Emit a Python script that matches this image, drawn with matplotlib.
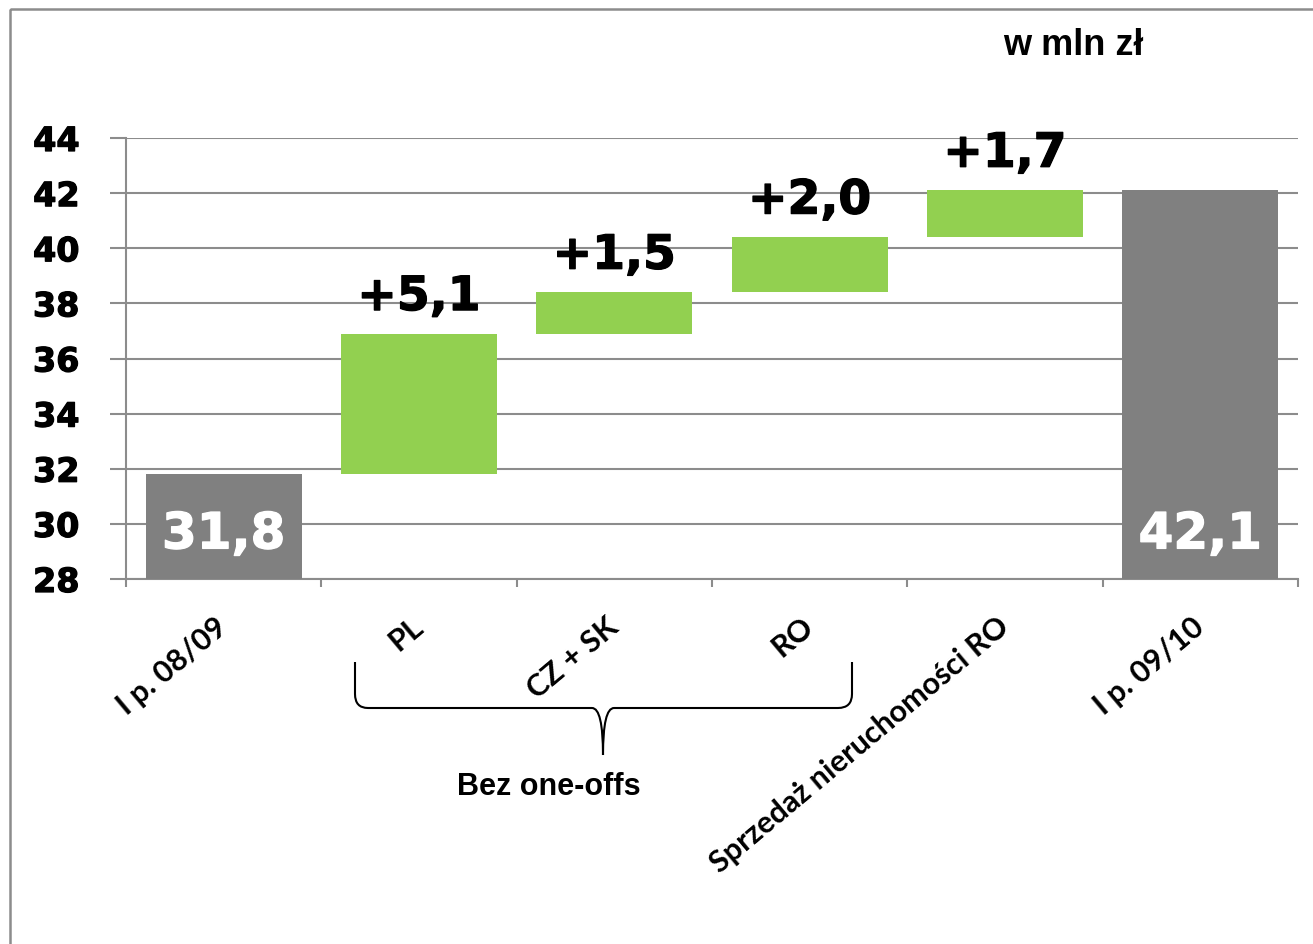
import matplotlib
matplotlib.use('Agg')
import matplotlib.pyplot as plt
import matplotlib.patches as mpatches
import matplotlib.patheffects as pe
from matplotlib.path import Path
import numpy as np

# Dane wykresu kaskadowego (w mln zł)
categories = ['I p. 08/09', 'PL', 'CZ + SK', 'RO', 'Sprzedaż nieruchomości RO', 'I p. 09/10']
start_value = 31.8
changes = [5.1, 1.5, 2.0, 1.7]
end_value = 42.1
change_labels = ['+5,1', '+1,5', '+2,0', '+1,7']
total_labels = ['31,8', '42,1']
y_ticks = [28, 30, 32, 34, 36, 38, 40, 42, 44]

GREEN = '#92D050'
GREY = '#808080'
LINE = '#8c8c8c'

# lekkie pogrubienie cyfr
heavy_black = [pe.withStroke(linewidth=0.9, foreground='black')]
heavy_white = [pe.withStroke(linewidth=0.9, foreground='white')]

W, H = 1313, 945
fig = plt.figure(figsize=(W / 100, H / 100), dpi=100)
ax = fig.add_axes([126 / W, 1 - 580 / H, (1298 - 126) / W, (580 - 139) / H])

ymin = y_ticks[0]
x = np.arange(len(categories))

# Słupki początkowy i końcowy
total_x = [x[0], x[-1]]
total_vals = [start_value, end_value]
ax.bar(total_x, [v - ymin for v in total_vals], bottom=ymin, width=0.8, color=GREY, zorder=3)
for xi, lbl in zip(total_x, total_labels):
    ax.annotate(lbl, xy=(xi, ymin), xytext=(0, 22), textcoords='offset points',
                ha='center', va='baseline', fontsize=36, fontweight='bold',
                color='white', family='DejaVu Sans', zorder=4, path_effects=heavy_white)

# Zmiany - pływające słupki
bottoms = start_value + np.concatenate([[0], np.cumsum(changes)[:-1]])
ax.bar(x[1:5], changes, bottom=bottoms, width=0.8, color=GREEN, zorder=3)
for xi, b, c, lbl in zip(x[1:5], bottoms, changes, change_labels):
    ax.annotate(lbl, xy=(xi, b + c), xytext=(0, 17), textcoords='offset points',
                ha='center', va='baseline', fontsize=34, fontweight='bold',
                family='DejaVu Sans', path_effects=heavy_black)

ax.set_xlim(-0.5, len(categories) - 0.5)
ax.set_ylim(ymin, y_ticks[-1])
ax.set_yticks(y_ticks)
ax.set_yticklabels([str(t) for t in y_ticks], fontsize=24, fontweight='bold', family='DejaVu Sans')
for t in ax.get_yticklabels():
    t.set_path_effects(heavy_black)
ax.tick_params(axis='y', length=11.5, width=1.5, color=LINE, pad=22)
ax.yaxis.grid(True, color=LINE, linewidth=1.5)
ax.set_axisbelow(True)

ax.set_xticks(x)
ax.set_xticklabels(categories, fontsize=22, fontweight='bold', family='Lato')
ax.set_xticks(np.arange(-0.5, len(categories)), minor=True)
ax.tick_params(axis='x', which='major', length=0, pad=31)
ax.tick_params(axis='x', which='minor', length=6, width=1.5, color=LINE)
plt.setp(ax.get_xticklabels(), rotation=40, ha='right', va='center', rotation_mode='anchor')

for side in ['top', 'right']:
    ax.spines[side].set_visible(False)
for side in ['left', 'bottom']:
    ax.spines[side].set_color(LINE)
    ax.spines[side].set_linewidth(1.5)

# Warstwa na klamrę, podpisy i ramkę (współrzędne w pikselach)
ov = fig.add_axes([0, 0, 1, 1])
ov.set_xlim(0, W)
ov.set_ylim(H, 0)
ov.axis('off')

ov.add_patch(mpatches.Rectangle((10, 10), W + 50, H + 50, fill=False,
                                edgecolor=LINE, linewidth=1.8))

verts = [(355, 663), (355, 695), (355, 709), (368, 709),
         (592, 709), (603, 709), (603, 756),
         (603, 709), (614, 709),
         (838, 709), (852, 709), (852, 695), (852, 663)]
codes = [Path.MOVETO, Path.LINETO, Path.CURVE3, Path.CURVE3,
         Path.LINETO, Path.CURVE3, Path.CURVE3,
         Path.CURVE3, Path.CURVE3,
         Path.LINETO, Path.CURVE3, Path.CURVE3, Path.LINETO]
ov.add_patch(mpatches.PathPatch(Path(verts, codes), fill=False, edgecolor='black', linewidth=1.5))

ov.text(549, 795, 'Bez one-offs', ha='center', va='baseline', fontsize=22,
        fontweight='bold', family='Liberation Sans')
ov.text(1073, 55, 'w mln zł', ha='center', va='baseline', fontsize=26,
        fontweight='bold', family='Liberation Sans')

fig.savefig('out.png', dpi=100)
